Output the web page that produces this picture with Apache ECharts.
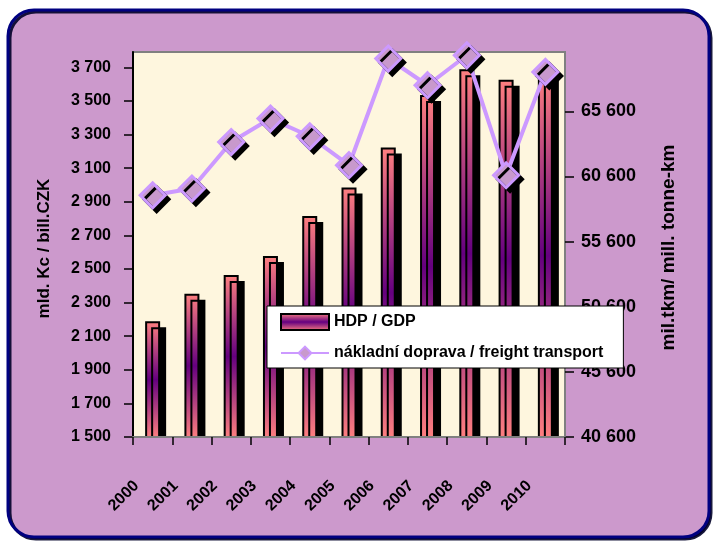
<!DOCTYPE html>
<html><head><meta charset="utf-8">
<script src="https://cdn.jsdelivr.net/npm/echarts@6/dist/echarts.min.js"></script>
<style>html,body{margin:0;padding:0;background:#fff;}#c{width:717px;height:548px;}</style>
</head><body><div id="c"></div>
<script>
const years = ['2000','2001','2002','2003','2004','2005','2006','2007','2008','2009','2010'];
const gdp = [2189, 2352, 2464, 2577, 2815, 2984, 3222, 3535, 3689, 3626, 3664];
const freight = [59150, 59670, 63240, 65040, 63680, 61460, 69650, 67600, 69900, 60690, 68620];
const leftTicks = [1500, 1700, 1900, 2100, 2300, 2500, 2700, 2900, 3100, 3300, 3500, 3700];
const rightTicks = [40600, 45600, 50600, 55600, 60600, 65600];
const seriesNames = ['HDP / GDP', 'nákladní doprava / freight transport'];
const axisNames = ['mld. Kc / bill.CZK', 'mil.tkm/ mill. tonne-km'];

const FONT = '"Liberation Sans", Arial, sans-serif';
const fmt = v => String(v).replace(/\B(?=(\d{3})+(?!\d))/g, ' ');

const chart = echarts.init(document.getElementById('c'), null, {renderer: 'canvas'});
chart.setOption({
  animation: false,
  backgroundColor: '#ffffff',
  textStyle: {fontFamily: FONT},
  graphic: {elements: [
    {type: 'rect', z: -10, silent: true,
     shape: {x: 8, y: 10, width: 701, height: 527, r: 26},
     style: {fill: '#CC99CC', stroke: '#000080', lineWidth: 3,
             shadowColor: 'rgba(0,0,40,0.9)', shadowOffsetX: 2, shadowOffsetY: 2, shadowBlur: 0}},
    {type: 'rect', z: 4, silent: true,
     shape: {x: 132, y: 438, width: 445, height: 8},
     style: {fill: '#CC99CC'}}
  ]},
  grid: {left: 133, right: 152, top: 52, bottom: 111, show: true,
         backgroundColor: '#FEF6DE', borderColor: '#808080', borderWidth: 2},
  legend: {
    orient: 'vertical', left: 267, top: 306,
    backgroundColor: '#ffffff', borderColor: '#000', borderWidth: 1,
    padding: [7, 20, 7, 13], itemGap: 14, itemWidth: 48, itemHeight: 16,
    textStyle: {fontSize: 16, fontWeight: 'bold', color: '#000', fontFamily: FONT},
    data: [
      {name: seriesNames[0], icon: 'rect', itemStyle: {shadowColor: 'rgba(0,0,0,0)'}},
      {name: seriesNames[1], itemStyle: {shadowColor: 'rgba(0,0,0,0)'}}
    ]
  },
  xAxis: {
    type: 'category', data: years, z: 6,
    axisLine: {lineStyle: {color: '#808080', width: 2}},
    axisTick: {show: true, length: 8, lineStyle: {color: '#000', width: 1.5}},
    axisLabel: {rotate: 45, fontSize: 16, fontWeight: 'bold', color: '#000',
                fontFamily: FONT, margin: 30, padding: [0, 23, 0, 0], interval: 0}
  },
  yAxis: [
    {type: 'value', position: 'left', min: 1500, max: 3791,
     name: axisNames[0], nameLocation: 'middle', nameRotate: 90, nameGap: 80,
     nameTextStyle: {fontSize: 17, fontWeight: 'bold', color: '#000', fontFamily: FONT, padding: [0, 8, 0, 0]},
     axisLine: {show: true, lineStyle: {color: '#000', width: 2}},
     axisTick: {show: true, length: 9, customValues: leftTicks, lineStyle: {color: '#000', width: 1.5}},
     axisLabel: {customValues: leftTicks, formatter: fmt, fontSize: 16, fontWeight: 'bold',
                 color: '#000', margin: 22, fontFamily: FONT},
     splitLine: {show: false}},
    {type: 'value', position: 'right', min: 40600, max: 70150, alignTicks: false,
     name: axisNames[1], nameLocation: 'middle', nameRotate: 90, nameGap: 94,
     nameTextStyle: {fontSize: 19, fontWeight: 'bold', color: '#000', fontFamily: FONT, padding: [0, 6, 0, 0]},
     axisLine: {show: true, lineStyle: {color: '#808080', width: 2}},
     axisTick: {show: true, length: 9, customValues: rightTicks, lineStyle: {color: '#000', width: 1.5}},
     axisLabel: {customValues: rightTicks, formatter: fmt, fontSize: 18, fontWeight: 'bold',
                 color: '#000', margin: 16, fontFamily: FONT},
     splitLine: {show: false}}
  ],
  series: [
    {name: seriesNames[0], type: 'bar', yAxisIndex: 0, data: gdp, barWidth: 15,
     itemStyle: {
       color: {type: 'linear', x: 0, y: 0, x2: 0, y2: 1, colorStops: [
         {offset: 0, color: '#FF8080'}, {offset: 0.5, color: '#650080'}, {offset: 1, color: '#FF8080'}]},
       borderColor: '#000', borderWidth: 2,
       shadowColor: '#000', shadowOffsetX: 6, shadowOffsetY: 6, shadowBlur: 0}},
    {name: seriesNames[1], type: 'line', yAxisIndex: 1, data: freight, z: 3,
     symbol: 'diamond', symbolSize: 25,
     lineStyle: {color: '#CC99FF', width: 4},
     itemStyle: {color: '#C899CC', borderColor: '#CC99FF', borderWidth: 3,
                 shadowColor: '#000', shadowOffsetX: 4, shadowOffsetY: 4, shadowBlur: 0}}
  ]
});
</script></body></html>
